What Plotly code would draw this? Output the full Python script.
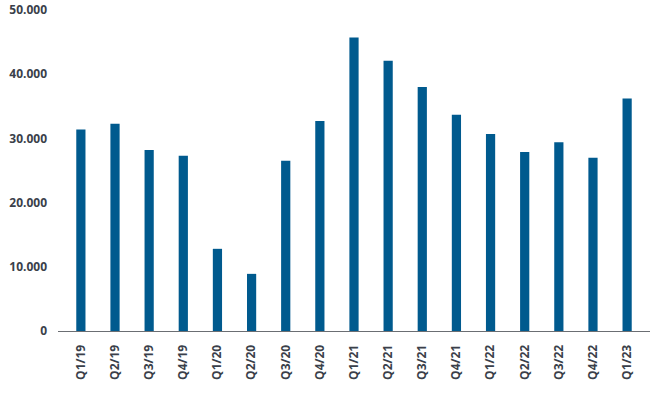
import plotly.graph_objects as go

quarters = ["Q1/19", "Q2/19", "Q3/19", "Q4/19", "Q1/20", "Q2/20", "Q3/20", "Q4/20",
            "Q1/21", "Q2/21", "Q3/21", "Q4/21", "Q1/22", "Q2/22", "Q3/22", "Q4/22", "Q1/23"]
values = [31400, 32300, 28200, 27300, 12800, 8900, 26500, 32700,
          45700, 42100, 38000, 33700, 30700, 27900, 29400, 27000, 36200]
y_ticks = [0, 10000, 20000, 30000, 40000, 50000]

bar_color = "#005a8e"
text_color = "#3a3f4a"
font_family = "Open Sans"

fig = go.Figure(go.Bar(x=list(range(len(quarters))), y=values, marker_color=bar_color,
                       marker_line_width=0, width=0.27))

fig.update_layout(
    width=650, height=394,
    margin=dict(l=58, r=0, t=10, b=63),
    paper_bgcolor="white", plot_bgcolor="white",
    separators=",.",
    showlegend=False,
    font=dict(family=font_family, color=text_color, size=12),
)
fig.update_xaxes(
    range=[-0.67, len(quarters) - 1 + 0.67],
    tickmode="array", tickvals=list(range(len(quarters))), ticktext=quarters,
    tickangle=-90, showgrid=False, zeroline=False,
    showline=True, linecolor="#6b6e73", linewidth=1,
    ticks="", ticklabelstandoff=8,
    tickfont=dict(family=font_family, size=12, color=text_color, weight="bold"),
)
fig.update_yaxes(
    range=[0, 50000], tickvals=y_ticks, tickformat=",d",
    showgrid=False, zeroline=False, showline=False, ticks="",
    ticklabelstandoff=10,
    tickfont=dict(family=font_family, size=12, color=text_color, weight="bold"),
)

fig.write_html("out.html")
